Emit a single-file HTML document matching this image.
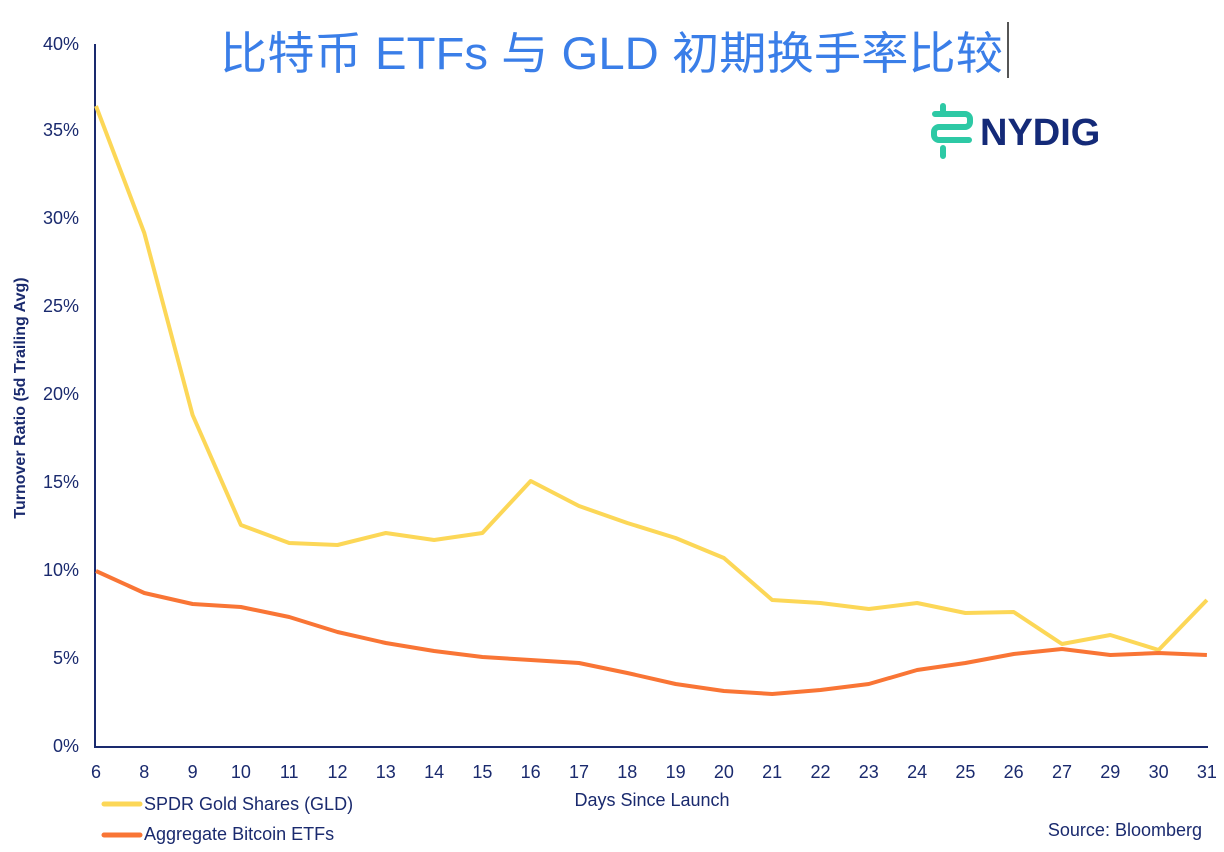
<!DOCTYPE html>
<html><head><meta charset="utf-8"><style>
body{margin:0;background:#fff;width:1224px;height:847px;overflow:hidden;font-family:"Liberation Sans","Noto Sans CJK SC",sans-serif}
</style></head><body>
<svg width="1224" height="847" xmlns="http://www.w3.org/2000/svg" font-family="Liberation Sans, Noto Sans CJK SC, sans-serif">
<text x="220" y="69" textLength="783" lengthAdjust="spacingAndGlyphs" font-size="45" fill="#3a7ee8" font-family="Liberation Sans, Noto Sans CJK SC, sans-serif">比特币 ETFs 与 GLD 初期换手率比较</text>
<line x1="1008" y1="22" x2="1008" y2="78" stroke="#555" stroke-width="2"/>
<g fill="none" stroke="#2dc9a5" stroke-width="6" stroke-linecap="round">
<path d="M943 106 v8 M943 148 v8 M935 114 h30 a5 5 0 0 1 5 5 v3 a5 5 0 0 1 -5 5 h-26 a5 5 0 0 0 -5 5 v3 a5 5 0 0 0 5 5 h30"/>
</g>
<text x="980" y="145" font-size="38" font-weight="bold" fill="#142a78">NYDIG</text>
<g stroke="#1a2a6e" stroke-width="2"><line x1="95" y1="44" x2="95" y2="748"/><line x1="94" y1="747" x2="1208" y2="747"/></g>
<g font-size="18" fill="#1a2a6e" text-anchor="end">
<text x="79" y="752">0%</text><text x="79" y="664">5%</text><text x="79" y="576">10%</text><text x="79" y="488">15%</text><text x="79" y="400">20%</text><text x="79" y="312">25%</text><text x="79" y="224">30%</text><text x="79" y="136">35%</text><text x="79" y="50">40%</text>
</g>
<g font-size="18" fill="#1a2a6e" text-anchor="middle" id="xl"></g>
<text transform="translate(25,398) rotate(-90)" font-size="16" font-weight="bold" fill="#1a2a6e" text-anchor="middle">Turnover Ratio (5d Trailing Avg)</text>
<text x="652" y="806" font-size="18" fill="#1a2a6e" text-anchor="middle">Days Since Launch</text>
<text x="1202" y="836" font-size="18" fill="#1a2a6e" text-anchor="end">Source: Bloomberg</text>
<line x1="104" y1="804" x2="140" y2="804" stroke="#fcd757" stroke-width="5" stroke-linecap="round"/>
<text x="144" y="810" font-size="18" fill="#1a2a6e">SPDR Gold Shares (GLD)</text>
<line x1="104" y1="835" x2="140" y2="835" stroke="#f97535" stroke-width="5" stroke-linecap="round"/>
<text x="144" y="840" font-size="18" fill="#1a2a6e">Aggregate Bitcoin ETFs</text>
<polyline id="g" fill="none" stroke="#fcd757" stroke-width="4" stroke-linejoin="round"/>
<polyline id="b" fill="none" stroke="#f97535" stroke-width="4" stroke-linejoin="round"/>
</svg>
<script>
var labs=[6,8,9,10,11,12,13,14,15,16,17,18,19,20,21,22,23,24,25,26,27,29,30,31];
var G=[106,233,415,525,543,545,533,540,533,481,506,523,538,558,600,603,609,603,613,612,644,635,650,600];
var B=[571,593,604,607,617,632,643,651,657,660,663,673,684,691,694,690,684,670,663,654,649,655,653,655];
var xl=document.getElementById('xl'),gp=[],bp=[];
for(var i=0;i<24;i++){var x=96+i*48.3;
var t=document.createElementNS('http://www.w3.org/2000/svg','text');t.setAttribute('x',x);t.setAttribute('y',778);t.textContent=labs[i];xl.appendChild(t);
gp.push(x+','+G[i]);bp.push(x+','+B[i]);}
document.getElementById('g').setAttribute('points',gp.join(' '));
document.getElementById('b').setAttribute('points',bp.join(' '));
</script>
</body></html>
